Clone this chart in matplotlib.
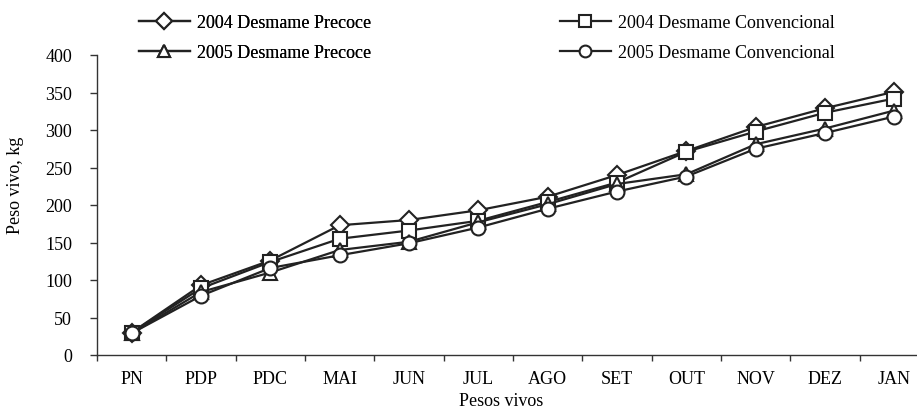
import matplotlib.pyplot as plt
from matplotlib.ticker import FixedLocator

plt.rcParams['font.family'] = ['Liberation Serif', 'DejaVu Serif']

# Categories and series (kg)
months = ["PN", "PDP", "PDC", "MAI", "JUN", "JUL", "AGO", "SET", "OUT", "NOV", "DEZ", "JAN"]
precoce_2004 = [30, 93, 126, 173, 180, 193, 211, 240, 272, 304, 329, 351]
conv_2004 = [30, 89, 124, 155, 166, 179, 204, 230, 271, 298, 323, 342]
precoce_2005 = [29, 84, 110, 140, 151, 177, 201, 228, 241, 281, 302, 326]
conv_2005 = [29, 79, 116, 133, 149, 170, 195, 218, 238, 275, 296, 318]

series = [
    ("2004 Desmame Precoce", precoce_2004, "D", 9),
    ("2004 Desmame Convencional", conv_2004, "s", 10),
    ("2005 Desmame Precoce", precoce_2005, "^", 10),
    ("2005 Desmame Convencional", conv_2005, "o", 10),
]

fig = plt.figure(figsize=(9.17, 4.14), dpi=100)
ax = fig.add_axes([97 / 917, 58 / 414, 832 / 917, 300 / 414])

x = list(range(len(months)))
handles = []
for label, vals, mk, ms in series:
    h, = ax.plot(x, vals, color="#222222", lw=1.6, marker=mk, markersize=ms,
                 markerfacecolor="white", markeredgecolor="#222222",
                 markeredgewidth=1.5, label=label)
    handles.append(h)

ax.set_xlim(-0.5, len(months) - 0.5)
ax.set_ylim(0, 400)
ax.set_yticks(range(0, 401, 50))

# category boundaries as major ticks, labels on minor ticks
ax.xaxis.set_major_locator(FixedLocator([i - 0.5 for i in range(len(months) + 1)]))
ax.xaxis.set_major_formatter(plt.NullFormatter())
ax.xaxis.set_minor_locator(FixedLocator(x))
ax.set_xticklabels(months, minor=True)
ax.tick_params(axis="x", which="major", direction="out", length=4, width=1, color="#333333")
ax.tick_params(axis="x", which="minor", length=0, pad=11, labelsize=13)
ax.tick_params(axis="y", direction="out", length=5, width=1, color="#333333", pad=13, labelsize=13)

for side in ["top", "right"]:
    ax.spines[side].set_visible(False)
for side in ["left", "bottom"]:
    ax.spines[side].set_color("#333333")
    ax.spines[side].set_linewidth(1)

ax.set_xlabel("Pesos vivos", fontsize=13)
ax.xaxis.set_label_coords(0.486, -0.125)
ax.set_ylabel("Peso vivo, kg", fontsize=13)
ax.yaxis.set_label_coords(-0.088, 0.57)

# legend in two columns above the plot
leg_kw = dict(loc="upper left", frameon=False, fontsize=13, handlelength=2.8,
              handletextpad=0.4, labelspacing=0.72, borderpad=0, borderaxespad=0,
              markerscale=0.85)
leg1 = fig.legend(handles=[handles[0], handles[2]],
                  bbox_to_anchor=(139 / 917, 1 - 15 / 414), **leg_kw)
fig.legend(handles=[handles[1], handles[3]],
           bbox_to_anchor=(560 / 917, 1 - 15 / 414), **leg_kw)
fig.add_artist(leg1)

fig.savefig("out.png", dpi=100)
